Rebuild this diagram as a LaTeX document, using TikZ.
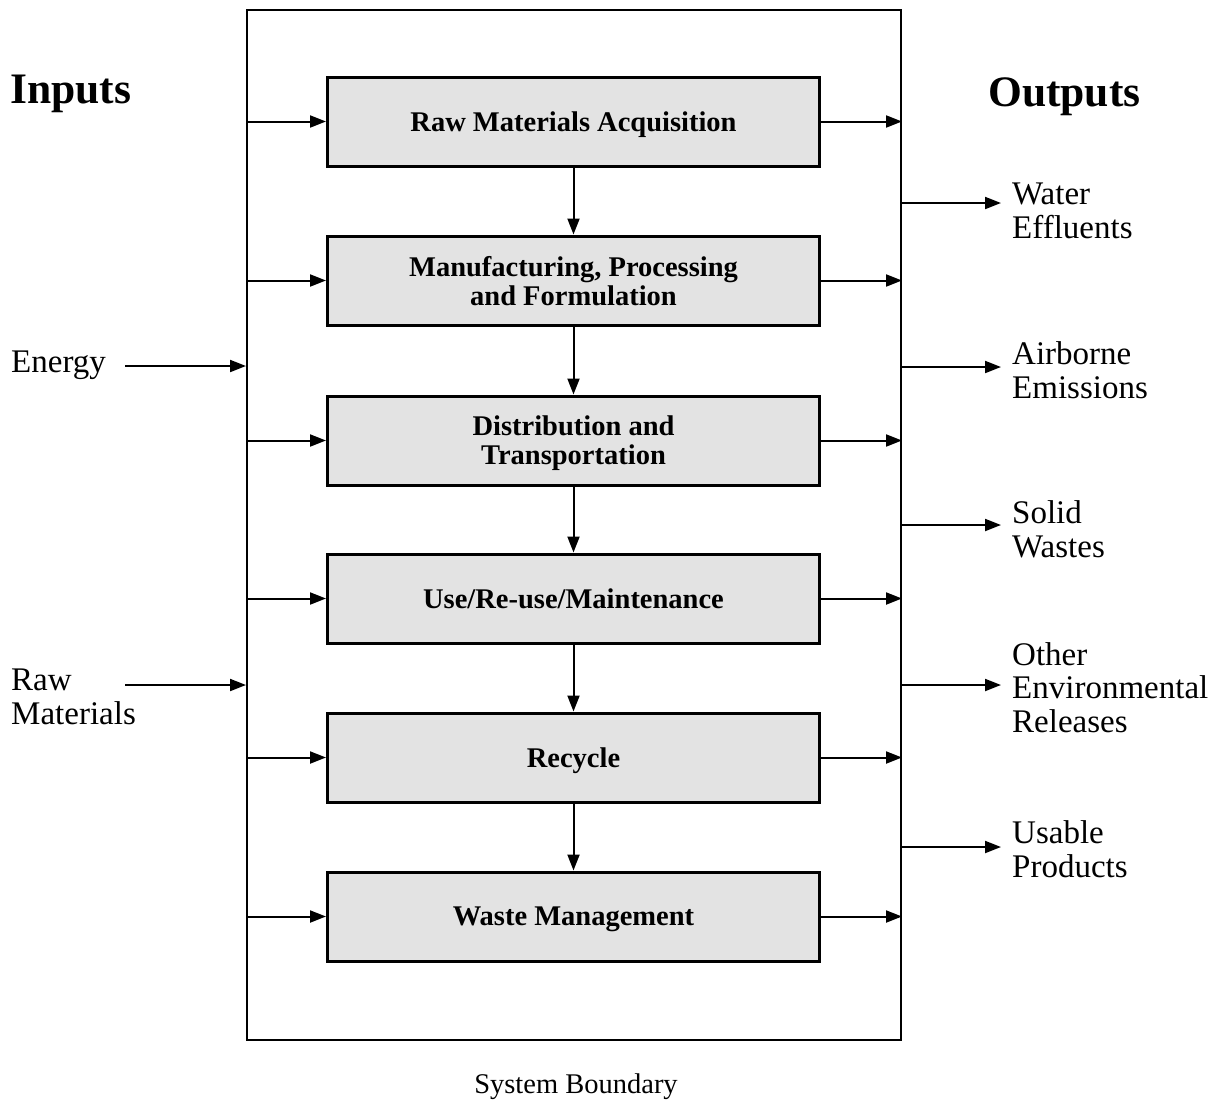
\documentclass[tikz,border=0pt]{standalone}
\usepackage{fontspec}
\setmainfont{Liberation Serif}
\usetikzlibrary{arrows.meta}
\begin{document}
\begin{tikzpicture}[x=1pt,y=-1pt,
  stage/.style={draw=black,line width=3pt,fill=black!11,minimum width=492pt,minimum height=89pt,
    inner sep=0pt,text depth=0pt,align=center,font=\fontsize{28.5}{29}\selectfont\bfseries},
  boundary/.style={draw=black,line width=2pt,minimum width=654pt,minimum height=1030pt,inner sep=0pt},
  lab/.style={anchor=base west,inner sep=0pt,align=left,font=\fontsize{33}{33.5}\selectfont},
  head/.style={anchor=base west,inner sep=0pt,font=\fontsize{43.5}{44}\selectfont\bfseries},
  flow/.style={line width=2pt,-{Triangle[length=16pt,width=12pt]}}]
\useasboundingbox (0,0) rectangle (1218,1103);
\node[boundary] (sb) at (574,525) {};
\node[stage] (b1) at (573.5,121.5) {Raw Materials Acquisition};
\node[stage] (b2) at (573.5,280.5) {Manufacturing, Processing\\and Formulation};
\node[stage] (b3) at (573.5,440.5) {Distribution and\\Transportation};
\node[stage] (b4) at (573.5,598.5) {Use/Re-use/Maintenance};
\node[stage] (b5) at (573.5,757.5) {Recycle};
\node[stage] (b6) at (573.5,916.5) {Waste Management};
\foreach \i in {1,...,6}{
  \draw[flow] (sb.west |- b\i.west) -- (b\i.west);
  \draw[flow] (b\i.east) -- (sb.east |- b\i.east);
}
\foreach \i/\j in {1/2,2/3,3/4,4/5,5/6}{
  \draw[flow] (b\i.south) -- (b\j.north);
}
\node[head] (inp) at (10,103) {Inputs};
\node[head] (outp) at (988,106) {Outputs};
\node[lab] (en) at (11,372) {Energy};
\node[lab] (rm) at (11,724) {Raw\\Materials};
\coordinate (ena) at (125,366);
\coordinate (rma) at (125,685);
\draw[flow] (ena) -- (sb.west |- ena);
\draw[flow] (rma) -- (sb.west |- rma);
\node[lab] (o1) at (1012,238) {Water\\Effluents};
\node[lab] (o2) at (1012,398) {Airborne\\Emissions};
\node[lab] (o3) at (1012,557) {Solid\\Wastes};
\node[lab] (o4) at (1012,732) {Other\\Environmental\\Releases};
\node[lab] (o5) at (1012,877) {Usable\\Products};
\coordinate (t1) at (1001,203);
\coordinate (t2) at (1001,367);
\coordinate (t3) at (1001,525);
\coordinate (t4) at (1001,685);
\coordinate (t5) at (1001,847);
\foreach \k in {1,...,5}{
  \draw[flow] (sb.east |- t\k) -- (t\k);
}
\node[anchor=base,inner sep=0pt,font=\fontsize{28.5}{29}\selectfont] (sbl) at (576,1093) {System Boundary};
\end{tikzpicture}
\end{document}
